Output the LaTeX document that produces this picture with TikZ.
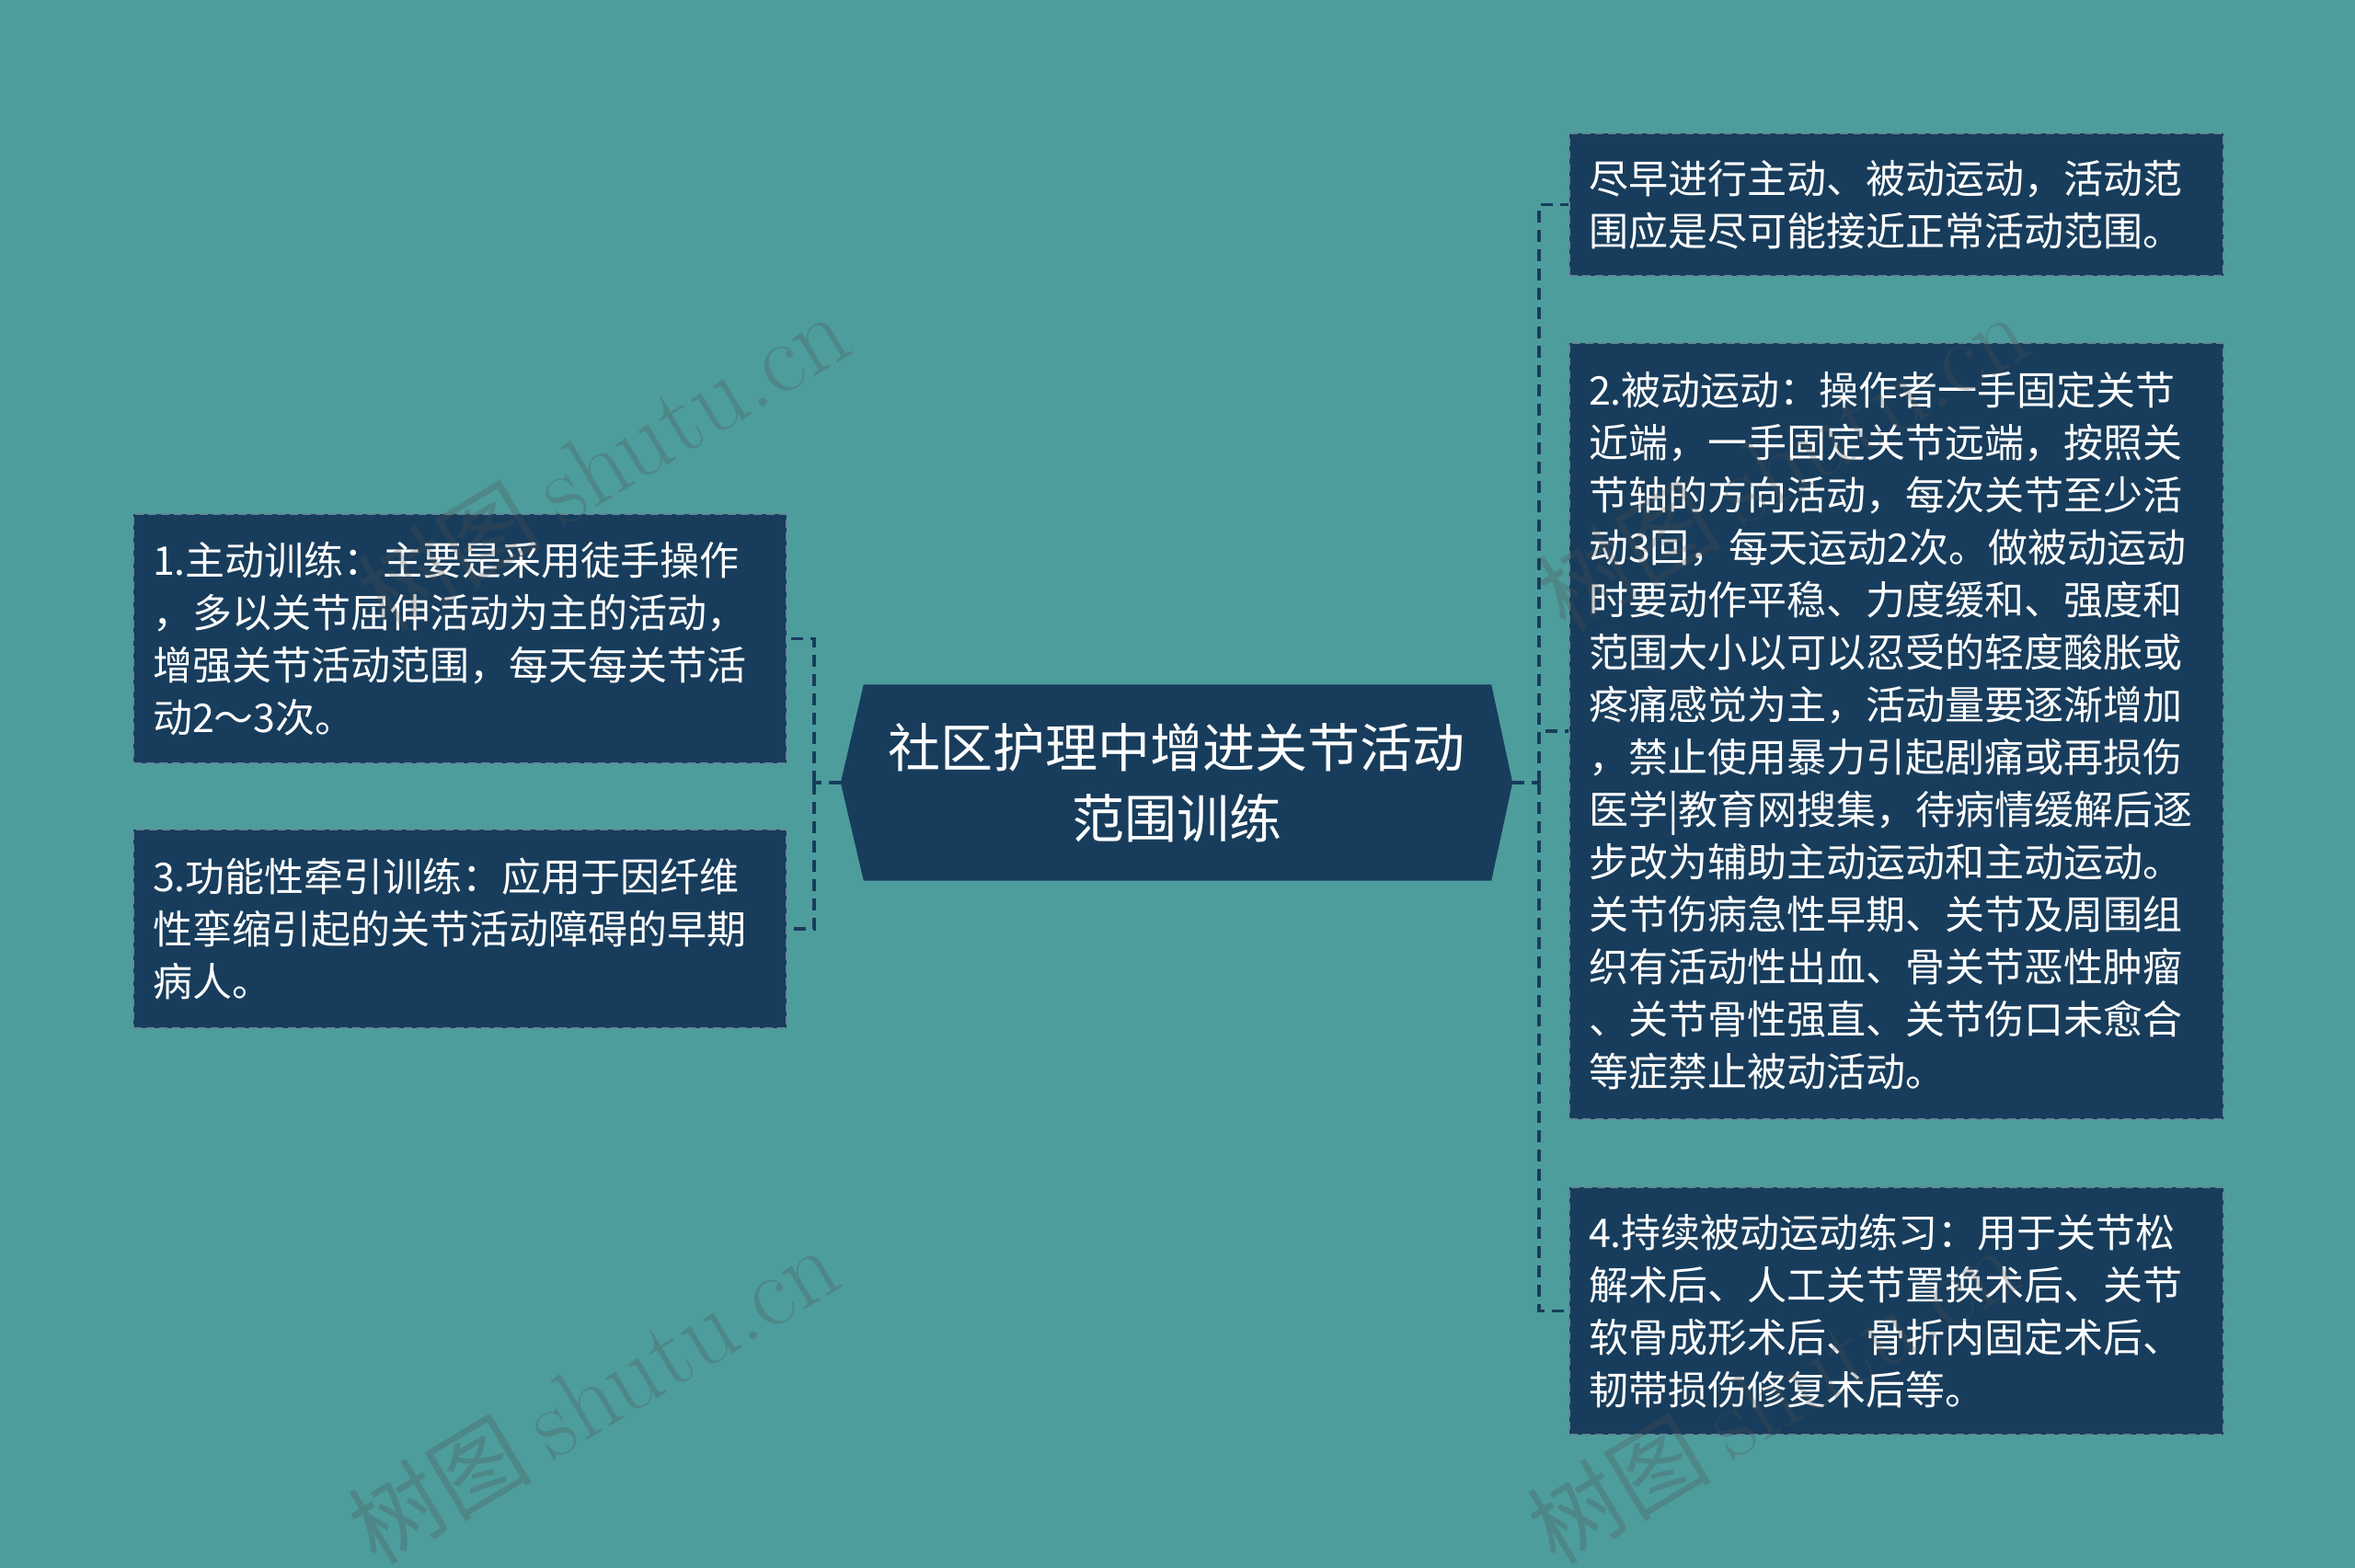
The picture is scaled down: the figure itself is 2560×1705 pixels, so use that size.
\documentclass[tikz,border=0pt]{standalone}
\usepackage{fontspec}
\newfontfamily\cjk{Noto Sans CJK SC}
\usetikzlibrary{calc}
\definecolor{bg}{RGB}{78,157,157}
\definecolor{navy}{RGB}{24,61,92}
\definecolor{edge}{RGB}{100,135,152}
\definecolor{wm}{RGB}{80,80,80}
\pgfdeclarelayer{background}
\pgfsetlayers{background,main}
\begin{document}
\begin{tikzpicture}[x=1pt,y=-1pt,
  box/.style={draw=edge, fill=navy, line width=2pt, dash pattern=on 9pt off 5pt,
    anchor=north west, align=left, inner xsep=21pt, inner ysep=0pt,
    text=white, font=\cjk\fontsize{43}{57}\selectfont},
  conn/.style={draw=navy, line width=3.5pt, dash pattern=on 13pt off 8pt},
  wmark/.style={rotate=31, text=wm, opacity=0.28, inner sep=0pt}]
\begin{pgfonlayer}{background}
\fill[bg] (0,0) rectangle (2560,1705);
\end{pgfonlayer}
\useasboundingbox (0,0) rectangle (2560,1705);

% centre
\node[inner sep=0pt, minimum width=730pt, minimum height=213pt, align=center,
  text=white, font=\cjk\fontsize{57}{77}\selectfont] (c) at (1279,851)
  {社区护理中增进关节活动\\范围训练};
\begin{pgfonlayer}{background}
\fill[navy] (c.west) -- ($(c.north west)+(25,0)$) -- ($(c.north east)+(-23,0)$)
  -- (c.east) -- ($(c.south east)+(-23,0)$) -- ($(c.south west)+(25,0)$) -- cycle;
\end{pgfonlayer}

% left boxes
\node[box, text width=668pt, minimum height=271pt] (l1) at (144,558)
  {1.主动训练：主要是采用徒手操作\\，多以关节屈伸活动为主的活动，\\增强关节活动范围，每天每关节活\\动2～3次。};
\node[box, text width=668pt, minimum height=216pt] (l3) at (144,901)
  {3.功能性牵引训练：应用于因纤维\\性挛缩引起的关节活动障碍的早期\\病人。};

% right boxes
\node[box, text width=669pt, minimum height=155pt] (r1) at (1705,144)
  {尽早进行主动、被动运动，活动范\\围应是尽可能接近正常活动范围。};
\node[box, text width=669pt, minimum height=844pt] (r2) at (1705,372)
  {2.被动运动：操作者一手固定关节\\近端，一手固定关节远端，按照关\\节轴的方向活动，每次关节至少活\\动3回，每天运动2次。做被动运动\\时要动作平稳、力度缓和、强度和\\范围大小以可以忍受的轻度酸胀或\\疼痛感觉为主，活动量要逐渐增加\\，禁止使用暴力引起剧痛或再损伤\\医学|教育网搜集，待病情缓解后逐\\步改为辅助主动运动和主动运动。\\关节伤病急性早期、关节及周围组\\织有活动性出血、骨关节恶性肿瘤\\、关节骨性强直、关节伤口未愈合\\等症禁止被动活动。};
\node[box, text width=669pt, minimum height=269pt] (r4) at (1705,1290)
  {4.持续被动运动练习：用于关节松\\解术后、人工关节置换术后、关节\\软骨成形术后、骨折内固定术后、\\韧带损伤修复术后等。};

% connectors
\draw[conn] (c.west) -- ++(-29,0) coordinate (lj);
\draw[conn] (lj) |- (l1.east);
\draw[conn] (lj) |- (l3.east);
\draw[conn] (c.east) -- ++(29,0) coordinate (rj);
\draw[conn] (rj) |- (r1.west);
\draw[conn] (rj) |- (r2.west);
\draw[conn] (rj) |- (r4.west);

% watermarks
\foreach \i/\p in {w1/{(656,503)}, w2/{(645,1518)}, w3/{(1938,503)}, w4/{(1927,1518)}}{
  \node[wmark] (\i) at \p {\cjk\fontsize{100}{100}\selectfont 树图 \rmfamily\fontsize{110}{110}\selectfont shutu.cn};
}
\end{tikzpicture}
\end{document}
